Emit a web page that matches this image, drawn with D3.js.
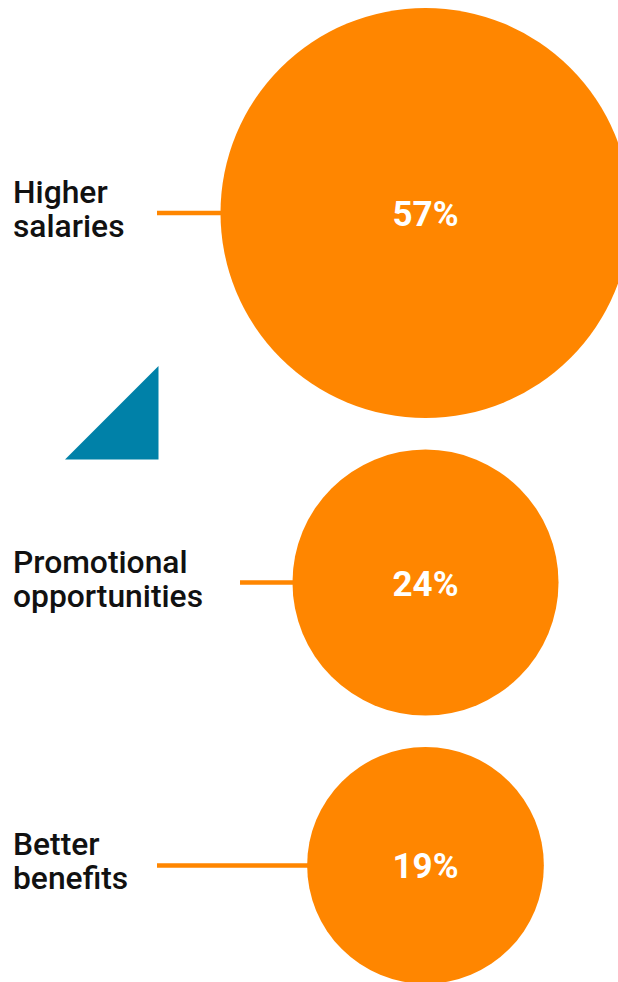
<!DOCTYPE html>
<html>
<head>
<meta charset="utf-8">
<script src="https://cdn.jsdelivr.net/npm/d3@7"></script>
<style>
  html, body { margin: 0; padding: 0; background: #fff; }
  svg { display: block; }
</style>
</head>
<body>
<svg id="chart" width="618" height="982"></svg>
<script>
const categories = [["Higher", "salaries"], ["Promotional", "opportunities"], ["Better", "benefits"]];
const values = [57, 24, 19];
const valueLabels = ["57%", "24%", "19%"];

(function() {
const orange = "#FF8600";
const blue = "#0081A8";
const svg = d3.select("#chart");

const r = d3.scaleSqrt().domain([0, 57]).range([0, 205]);
const cx = 425.5;
const gap = 31.5;
let yTop = 8;
const centers = values.map(v => { const c = yTop + r(v); yTop = c + r(v) + gap; return c; });

// decorative triangle
svg.append("path")
  .attr("d", "M65,459.5 L158.5,459.5 L158.5,366 Z")
  .attr("fill", blue);

const g = svg.selectAll("g.item").data(values).enter().append("g").attr("class", "item");

g.append("circle")
  .attr("cx", cx)
  .attr("cy", (d, i) => centers[i])
  .attr("r", d => r(d))
  .attr("fill", orange);

g.append("text")
  .attr("x", cx)
  .attr("y", (d, i) => centers[i] + 13)
  .attr("text-anchor", "middle")
  .attr("fill", "#fff")
  .attr("font-family", "Roboto, sans-serif")
  .attr("font-weight", 700)
  .attr("font-size", 35)
  .text((d, i) => valueLabels[i]);

g.each(function(d, i) {
  const sel = d3.select(this);
  const cy = centers[i];
  let maxW = 0;
  categories[i].forEach((line, j) => {
    const t = sel.append("text")
      .attr("x", 13).attr("y", cy - 10 + j * 34)
      .attr("font-family", "Roboto, sans-serif")
      .attr("font-weight", 500)
      .attr("font-size", 31.8)
      .attr("fill", "#111")
      .text(line);
    maxW = Math.max(maxW, t.node().getComputedTextLength());
  });
  const x0 = (13 + maxW > 150) ? 13 + maxW + 37 : 157;
  sel.append("line")
    .attr("x1", x0).attr("x2", cx - r(d) + 2)
    .attr("y1", cy).attr("y2", cy)
    .attr("stroke", orange).attr("stroke-width", 4.5);
});
})();
</script>
</body>
</html>
